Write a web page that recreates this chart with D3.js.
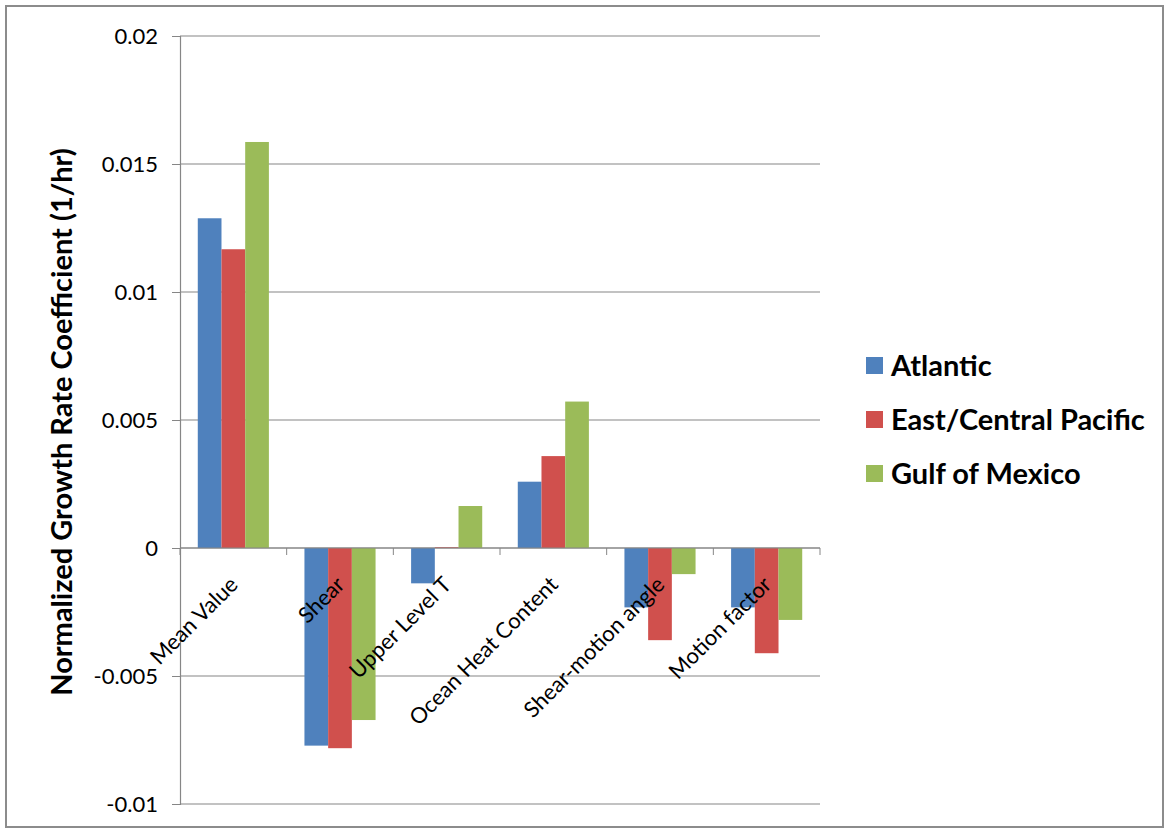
<!DOCTYPE html>
<html><head><meta charset="utf-8">
<script src="https://cdn.jsdelivr.net/npm/d3@7"></script>
<style>body{margin:0;background:#fff}svg{font-family:Lato,"Open Sans",sans-serif}</style>
</head><body><svg id="c" width="1165" height="829"></svg>
<script>
const categories = ["Mean Value","Shear","Upper Level T","Ocean Heat Content","Shear-motion angle","Motion factor"];
const seriesNames = ["Atlantic","East/Central Pacific","Gulf of Mexico"];
const atlantic = [0.01288,-0.00772,-0.00138,0.00259,-0.00232,-0.00232];
const eastCentralPacific = [0.01167,-0.00782,0.00003,0.00359,-0.00360,-0.00411];
const gulfOfMexico = [0.01586,-0.00672,0.00164,0.00572,-0.00102,-0.00281];
const yTicks = [-0.01,-0.005,0,0.005,0.01,0.015,0.02];
const yTickLabels = ["-0.01","-0.005","0","0.005","0.01","0.015","0.02"];
const colors = ["#4F81BD","#D0504D","#9BBB59"];

const svg = d3.select("#c");
svg.append("rect").attr("x",6).attr("y",6).attr("width",1157).attr("height",821)
  .attr("fill","#fff").attr("stroke","#8c8c8c").attr("stroke-width",2);

const L=180,R=820,T=36,B=804;
const x = d3.scaleBand().domain(categories).range([L,R]).paddingInner(0.3333).paddingOuter(0.1667);
const xs = d3.scaleBand().domain(seriesNames).range([0,x.bandwidth()]);
const y = d3.scaleLinear().domain([-0.01,0.02]).range([B,T]);

// gridlines
svg.append("g").selectAll("line").data(yTicks).join("line")
  .attr("x1",L).attr("x2",R).attr("y1",d=>y(d)).attr("y2",d=>y(d))
  .attr("stroke","#868686").attr("stroke-width",1.2);

// y axis
const ya = svg.append("g").attr("transform",`translate(${L},0)`)
  .call(d3.axisLeft(y).tickValues(yTicks).tickFormat((d,i)=>yTickLabels[i]).tickSize(8).tickPadding(14));
ya.select(".domain").attr("stroke","#868686").attr("stroke-width",1.2);
ya.selectAll(".tick line").attr("stroke","#868686");
ya.selectAll("text").attr("font-size",22).attr("fill","#000").attr("font-family","Lato,sans-serif");

// bars
const data = [atlantic,eastCentralPacific,gulfOfMexico];
data.forEach((vals,si)=>{
  svg.append("g").selectAll("rect").data(vals).join("rect")
    .attr("x",(d,i)=>x(categories[i])+xs(seriesNames[si]))
    .attr("width",xs.bandwidth())
    .attr("y",d=>y(Math.max(0,d)))
    .attr("height",d=>Math.abs(y(d)-y(0)))
    .attr("fill",colors[si]);
});

// zero axis with category tick marks
const step = (R-L)/categories.length;
svg.append("line").attr("x1",L).attr("x2",R).attr("y1",y(0)).attr("y2",y(0)).attr("stroke","#868686").attr("stroke-width",1.2);
svg.append("g").selectAll("line").data(d3.range(categories.length+1)).join("line")
  .attr("x1",i=>L+i*step).attr("x2",i=>L+i*step).attr("y1",y(0)).attr("y2",y(0)+7)
  .attr("stroke","#868686");

// category labels
svg.append("g").selectAll("text").data(categories).join("text")
  .attr("transform",d=>`translate(${x(d)+x.bandwidth()/2+6},${y(0)+38}) rotate(-45)`)
  .attr("text-anchor","end").attr("font-size",22).attr("fill","#000").text(d=>d);

// y title
svg.append("text").attr("transform","translate(72,422) rotate(-90)")
  .attr("text-anchor","middle").attr("font-size",29).attr("font-weight","bold").attr("fill","#000")
  .text("Normalized Growth Rate Coefficient (1/hr)");

// legend
const lg = svg.append("g").selectAll("g").data(seriesNames).join("g")
  .attr("transform",(d,i)=>`translate(866,${366+i*54})`);
lg.append("rect").attr("x",0).attr("y",-9).attr("width",17).attr("height",17).attr("fill",(d,i)=>colors[i]);
lg.append("text").attr("x",25).attr("y",0).attr("dy","0.35em").attr("font-size",29).attr("font-weight","bold").attr("fill","#000").text(d=>d);
</script></body></html>
